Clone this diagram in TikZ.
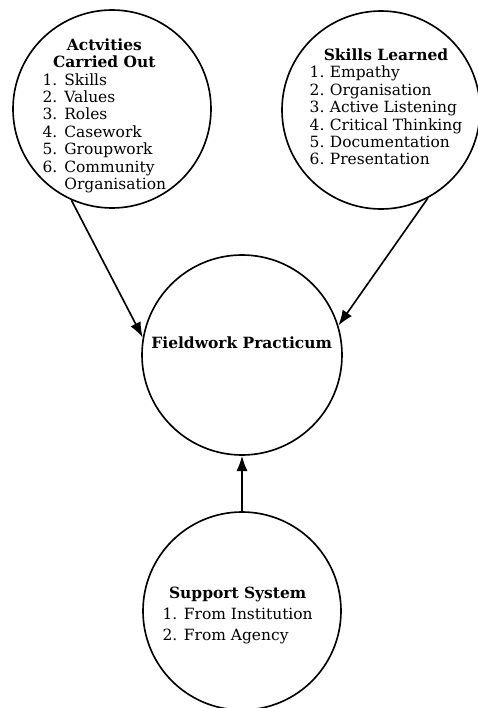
\documentclass[tikz,border=0pt]{standalone}
\usepackage{fontspec}
\setmainfont{DejaVu Serif}
\usetikzlibrary{arrows.meta,positioning}

\begin{document}
\begin{tikzpicture}[
  bubble/.style={draw,circle,line width=1.4pt,minimum size=5.94cm,inner sep=0pt},
  bubtxt/.style={align=center,font=\fontsize{13.2}{14.9}\selectfont,inner sep=0pt},
  feed/.style={line width=1.4pt,-{Latex[length=4.6mm,width=3.4mm]}}
]
  \useasboundingbox (0,0) rectangle (14.31,-21.24);
  % the four circles
  \node[bubble] (act) at (3.36,-3.27) {};
  \node[bubble] (skills) at (11.43,-3.30) {};
  \node[bubble,minimum size=6cm] (field) at (7.26,-10.65) {};
  \node[bubble] (support) at (7.26,-18.33) {};
  % texts inside them
  \node[bubtxt] (acttxt) at (3.13,-3.5) {\textbf{Actvities}\\\textbf{Carried Out}\\
    \begin{tabular}[t]{@{}l@{\hspace{0.45em}}l@{}}
      1. & Skills\\ 2. & Values\\ 3. & Roles\\ 4. & Casework\\
      5. & Groupwork\\ 6. & Community\\ & Organisation
    \end{tabular}};
  \node[bubtxt] (skilltxt) at (11.58,-3.28) {\textbf{Skills Learned}\\
    \begin{tabular}[t]{@{}l@{\hspace{0.35em}}l@{}}
      1. & Empathy\\ 2. & Organisation\\ 3. & Active Listening\\
      4. & Critical Thinking\\ 5. & Documentation\\ 6. & Presentation
    \end{tabular}};
  \node[bubtxt] (fieldtxt) at (7.25,-10.29) {\textbf{Fieldwork Practicum}};
  \node[bubtxt,font=\fontsize{13.2}{17.8}\selectfont] (supptxt) at (7.13,-18.5) {\textbf{Support System}\\
    \begin{tabular}[t]{@{}l@{}}
      1. From Institution\\ 2. From Agency
    \end{tabular}};
  % arrows into the practicum
  \draw[feed] (act.246) -- (field.170);
  \draw[feed] (skills.298) -- (field.17);
  \draw[feed] (support.north) -- (field.south);
\end{tikzpicture}
\end{document}
